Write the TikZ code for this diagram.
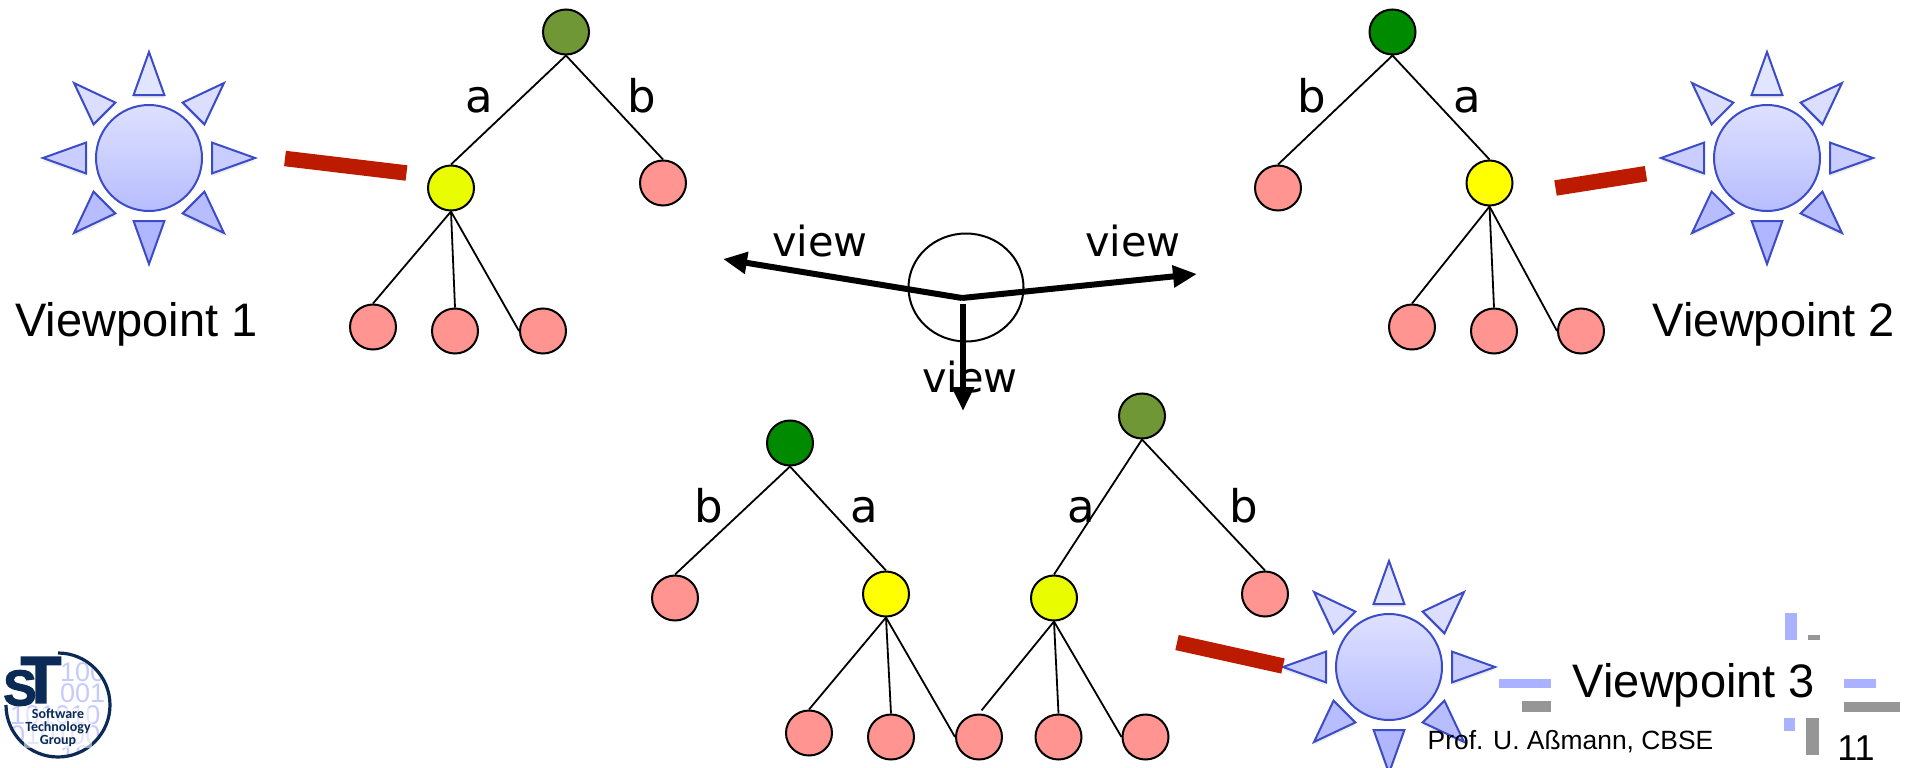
\documentclass[tikz,border=0pt]{standalone}
\usepackage{fontspec}
\setmainfont{Liberation Sans}
\newfontfamily\viewfont{DejaVu Sans}
\newfontfamily\logofont{Carlito}
\newfontfamily\logoheavy[FakeBold=2.5]{Liberation Sans Bold}
\usetikzlibrary{arrows.meta,shapes.geometric,shadows}

\definecolor{rootolive}{HTML}{6F9735}
\definecolor{rootgreen}{HTML}{008A00}
\definecolor{innerlime}{HTML}{E9FC00}
\definecolor{inneryellow}{HTML}{FFFF00}
\definecolor{leafpink}{HTML}{FF9490}
\definecolor{barred}{HTML}{BD1B00}
\definecolor{sunline}{HTML}{3C4CC6}
\definecolor{sunlight}{HTML}{E2E5FF}
\definecolor{sundark}{HTML}{B0B6FF}
\definecolor{markblue}{HTML}{AAB1FF}
\definecolor{markgrey}{HTML}{969696}
\definecolor{logonavy}{HTML}{0B2A55}
\definecolor{logodigit}{HTML}{C6CAFF}

\tikzset{
  treenode/.style={ellipse,draw=black,line width=2pt,inner sep=0pt,
    minimum width=46pt,minimum height=45pt},
  leaf/.style={treenode,fill=leafpink},
  treeedge/.style={line width=1.8pt},
  edgelabel/.style={inner sep=0pt,anchor=base,font=\viewfont\fontsize{45}{48}\selectfont},
  viewlabel/.style={inner sep=0pt,anchor=base,font=\viewfont\fontsize{41.5}{44}\selectfont},
  pointlabel/.style={inner sep=0pt,anchor=base,font=\fontsize{47}{50}\selectfont},
  viewarrow/.style={line width=6pt,-{Triangle[length=24pt,width=21pt]}},
  viewbar/.style={barred,line width=15.5pt},
  sunbody/.style={circle,draw=sunline,line width=2pt,inner sep=0pt,minimum size=106pt,
    top color=sunlight!90!sundark,bottom color=sundark!85!sunlight},
  sunray/.style={draw=sunline,line width=2pt,line join=miter,
    drop shadow={opacity=.15,shadow xshift=0pt,shadow yshift=-3pt}},
  digitrow/.style={inner sep=0pt,anchor=west,text=logodigit,font=\fontsize{27}{30}\selectfont}
}

\begin{document}
\begin{tikzpicture}[x=1pt,y=-1pt]
  \useasboundingbox (0,0) rectangle (1917,768);

  % Viewpoints
  \foreach \sunname/\sunx/\suny in {sunA/149/158,sunB/1767/158,sunC/1389/667}{
    \foreach \a in {0,45,...,315}{
      \pgfmathsetmacro\t{50+50*sin(\a)}
      \draw[sunray,fill=sunlight!\t!sundark,shift={(\sunx,\suny)},rotate=\a]
        (63,-15.4) -- (106,0) -- (63,15.4) -- cycle;
    }
    \node[sunbody] (\sunname) at (\sunx,\suny) {};
  }
  \node[pointlabel] (labelA) at (136.5,336) {Viewpoint 1};
  \node[pointlabel] (labelB) at (1774,336) {Viewpoint 2};
  \node[pointlabel] (labelC) at (1694,697) {Viewpoint 3};

  % Left tree
  \node[treenode,fill=rootolive] (rootA) at (566,32) {};
  \node[treenode,fill=innerlime] (innerA) at (451,188) {};
  \node[leaf] (leafA) at (663,183) {};
  \node[leaf] (kidAa) at (373,327) {};
  \node[leaf] (kidAb) at (455,331) {};
  \node[leaf] (kidAc) at (543,331) {};
  \node[edgelabel] (edgeAa) at (479,112) {a};
  \node[edgelabel] (edgeAb) at (642,112) {b};

  % Right tree
  \node[treenode,fill=rootgreen] (rootB) at (1392.5,32) {};
  \node[treenode,fill=inneryellow] (innerB) at (1489.5,183) {};
  \node[leaf] (leafB) at (1278,188) {};
  \node[leaf] (kidBa) at (1412,327) {};
  \node[leaf] (kidBb) at (1494,331) {};
  \node[leaf] (kidBc) at (1581,331) {};
  \node[edgelabel] (edgeBb) at (1312,112) {b};
  \node[edgelabel] (edgeBa) at (1467,112) {a};

  % Lower trees
  \node[treenode,fill=rootgreen] (rootC) at (790,443) {};
  \node[treenode,fill=inneryellow] (innerC) at (886,594) {};
  \node[leaf] (leafC) at (675,598) {};
  \node[leaf] (kidCa) at (809,733) {};
  \node[leaf] (kidCb) at (891,737) {};
  \node[leaf] (kidCc) at (979,737) {};
  \node[treenode,fill=rootolive] (rootD) at (1142,416) {};
  \node[treenode,fill=innerlime] (innerD) at (1054,598) {};
  \node[leaf] (leafD) at (1265,594) {};
  \node[leaf] (kidDb) at (1058.5,737) {};
  \node[leaf] (kidDc) at (1145.5,737) {};
  \node[edgelabel] (edgeCb) at (709,522) {b};
  \node[edgelabel] (edgeCa) at (864,522) {a};
  \node[edgelabel] (edgeDa) at (1081,522) {a};
  \node[edgelabel] (edgeDb) at (1244,522) {b};

  \foreach \from/\to in {rootA/innerA,rootA/leafA,innerA/kidAa,innerA/kidAb,
      rootB/leafB,rootB/innerB,innerB/kidBa,innerB/kidBb,
      rootC/leafC,rootC/innerC,innerC/kidCa,innerC/kidCb,
      rootD/innerD,rootD/leafD,innerD/kidDb}
    \draw[treeedge] (\from.south) -- (\to.north);
  \foreach \from/\to in {innerA/kidAc,innerB/kidBc,innerC/kidCc,innerD/kidDc}
    \draw[treeedge] (\from.south) -- (\to.west);
  \draw[treeedge,shorten >=4pt] (innerD.south) -- (kidCc.north);

  % Bars
  \coordinate (barAfrom) at (285,158.5);
  \coordinate (barAto) at (406.5,173);
  \coordinate (barBfrom) at (1555.5,188);
  \coordinate (barBto) at (1646,173.7);
  \coordinate (barCfrom) at (1177,642.5);
  \coordinate (barCto) at (1283,666);
  \draw[viewbar] (barAfrom) -- (barAto);
  \draw[viewbar] (barBfrom) -- (barBto);
  \draw[viewbar] (barCfrom) -- (barCto);

  % The view arrows
  \node[ellipse,draw=black,line width=2pt,inner sep=0pt,minimum width=115pt,minimum height=108pt]
    (hub) at (966,287.5) {};
  \coordinate (hubpoint) at (962,298);
  \coordinate (viewleft) at (723,259);
  \coordinate (viewright) at (1197,274);
  \coordinate (viewdownfrom) at (963,304);
  \coordinate (viewdown) at (963,411);
  \draw[viewarrow] (hubpoint) -- (viewleft);
  \draw[viewarrow] (hubpoint) -- (viewright);
  \draw[viewarrow] (viewdownfrom) -- (viewdown);
  \node[viewlabel] (viewA) at (820,256) {view};
  \node[viewlabel] (viewB) at (1133,256) {view};
  \node[viewlabel] (viewC) at (970,392) {view};

  % Slide decoration
  \fill[markblue] (1785,613) rectangle (1797,640);
  \fill[markgrey] (1808,635) rectangle (1820,640);
  \fill[markblue] (1499,679) rectangle (1551,688);
  \fill[markgrey] (1522,701) rectangle (1551,712);
  \fill[markblue] (1844,679) rectangle (1876,688);
  \fill[markgrey] (1844,702) rectangle (1900,712);
  \fill[markblue] (1784,718) rectangle (1795,731);
  \fill[markgrey] (1806,718) rectangle (1819,755);
  \node[inner sep=0pt,font=\fontsize{26.4}{28}\selectfont] (footer) at (1570.5,742) {Prof. U. Aßmann, CBSE};
  \node[inner sep=0pt,anchor=base,font=\fontsize{36}{38}\selectfont] (pagenum) at (1856,760) {11};

  % Logo
  \begin{scope}
    \clip (58,705) circle (50);
    \node[digitrow] (digitsa) at (60,672) {100};
    \node[digitrow] (digitsb) at (60,693) {001};
    \node[digitrow] (digitsc) at (10,715) {101010};
    \node[digitrow] (digitsd) at (10,735) {010100};
    \node[digitrow] (digitse) at (60,755) {10};
  \end{scope}
  \draw[logonavy,line width=3.2pt] (58,653) arc[start angle=-90,end angle=180,radius=52];
  \node[inner sep=0pt,text=logonavy,font=\logoheavy\fontsize{66}{70}\selectfont] (logoT) at (41,680) {T};
  \node[inner sep=0pt,text=logonavy,font=\logoheavy\fontsize{50}{52}\selectfont] (logoS) at (20,688) {S};
  \node[inner sep=1pt,fill=white,fill opacity=.55,text opacity=1,text=logonavy,align=center,
    font=\logofont\bfseries\fontsize{14}{13}\selectfont]
    (logotext) at (58,728) {Software\\Technology\\Group};
\end{tikzpicture}
\end{document}
